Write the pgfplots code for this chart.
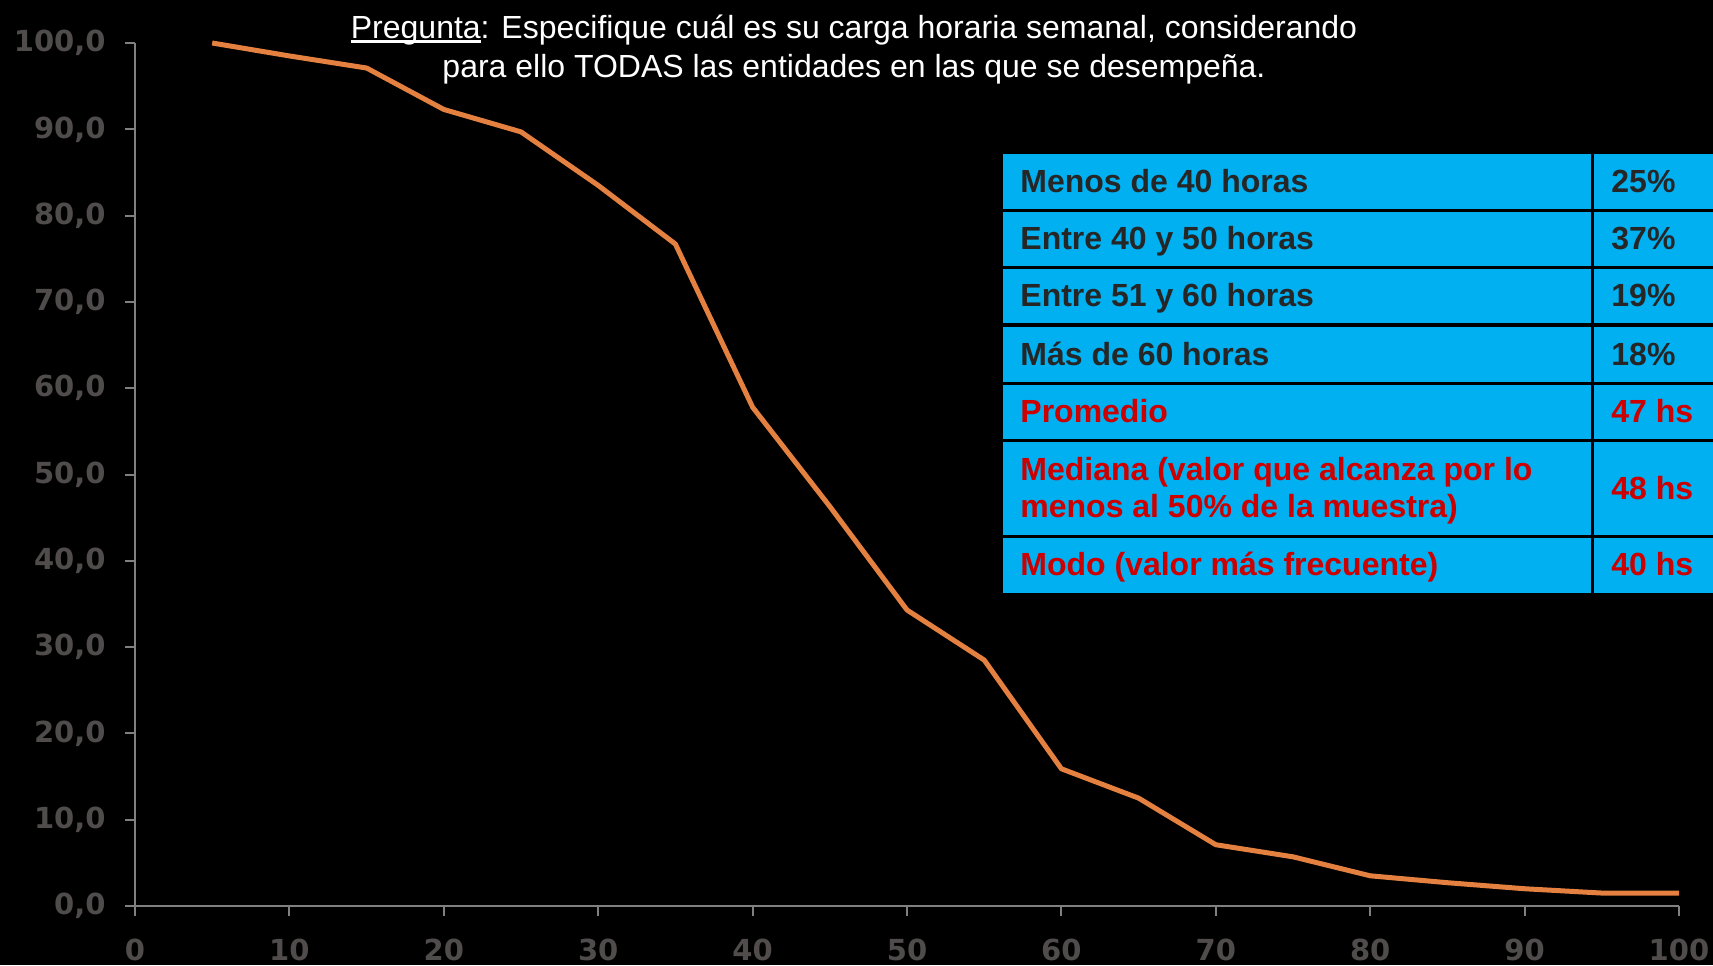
\documentclass[border=0pt]{standalone}
\usepackage{fontspec}
\setmainfont{Liberation Sans}
\newfontfamily\tickfont{DejaVu Sans}
\usepackage{pgfplots}
\usepackage{pgfplotstable}
\pgfplotsset{compat=1.18}
\definecolor{lineorange}{RGB}{228,128,64}
\definecolor{axisgray}{RGB}{128,128,128}
\definecolor{tickgray}{RGB}{80,76,76}
\definecolor{cellcyan}{RGB}{0,176,240}
\definecolor{darktext}{RGB}{38,38,38}
\definecolor{redtext}{RGB}{204,0,0}
\newcommand\ulword[1]{\setbox0\hbox{#1}\rlap{\rule[-2.2pt]{\wd0}{1.2pt}}#1}

\pgfplotstableread{
x y
5 100.0
10 98.5
15 97.1
20 92.3
25 89.7
30 83.5
35 76.7
40 57.8
45 46.3
50 34.3
55 28.5
60 15.9
65 12.5
70 7.1
75 5.7
80 3.5
85 2.7
90 2.0
95 1.5
100 1.5
}\datatable

\begin{document}
\begin{tikzpicture}
\fill[black] (0,0) rectangle (856.5pt,482.5pt);
\useasboundingbox (0,0) rectangle (856.5pt,482.5pt);
\begin{axis}[
  at={(67.5pt,29.5pt)}, anchor=south west,
  scale only axis, width=772pt, height=431.5pt,
  xmin=0, xmax=100, ymin=0, ymax=100,
  axis x line=bottom, axis y line=left,
  axis line style={-, draw=axisgray, line width=1pt},
  xtick={0,10,...,100}, ytick={0,10,...,100},
  tick align=outside, major tick length=5pt,
  tick style={draw=axisgray, line width=1pt},
  /pgf/number format/assume math mode=true,
  ticklabel style={font=\tickfont\bfseries\fontsize{14.5}{14.5}\selectfont, text=tickgray, inner sep=0pt},
  x tick label style={anchor=base, yshift=-22pt},
  y tick label style={anchor=east, xshift=-9.5pt, /pgf/number format/.cd, fixed, fixed zerofill, precision=1, use comma, /tikz/.cd},
  clip=false,
]
\addplot[lineorange, line width=2.5pt, line join=round] table[x=x, y=y] {\datatable};
\end{axis}
\begin{scope}[x=0.5pt, y=-0.5pt, shift={(0,482.5pt)}]
  % title
  \node[text=white, font=\fontsize{16}{19}\selectfont, anchor=base] at (854,38.5) {\ulword{Pregunta}: Especifique cuál es su carga horaria semanal, considerando};
  \node[text=white, font=\fontsize{16}{19}\selectfont, anchor=base] at (854,77.5) {para ello TODAS las entidades en las que se desempeña.};
  % table cells
  \foreach \a/\b in {154/209, 212/266, 269/323, 327/382, 385/439, 442/535, 538/593}{
    \fill[cellcyan] (1003,\a) rectangle (1591,\b);
    \fill[cellcyan] (1594,\a) rectangle (1713,\b);
  }
  \tikzset{tl/.style={anchor=base west, inner sep=0pt, font=\bfseries\fontsize{16}{18.8}\selectfont}}
  \node[tl, text=darktext] at (1020,192.5) {Menos de 40 horas};
  \node[tl, text=darktext] at (1020,250) {Entre 40 y 50 horas};
  \node[tl, text=darktext] at (1020,307) {Entre 51 y 60 horas};
  \node[tl, text=darktext] at (1020,365.5) {Más de 60 horas};
  \node[tl, text=redtext] at (1020,423) {Promedio};
  \node[tl, text=redtext] at (1020,481) {Mediana (valor que alcanza por lo};
  \node[tl, text=redtext] at (1020,518) {menos al 50\% de la muestra)};
  \node[tl, text=redtext] at (1020,575.5) {Modo (valor más frecuente)};
  \node[tl, text=darktext] at (1611,192.5) {25\%};
  \node[tl, text=darktext] at (1611,250) {37\%};
  \node[tl, text=darktext] at (1611,307) {19\%};
  \node[tl, text=darktext] at (1611,365.5) {18\%};
  \node[tl, text=redtext] at (1611,423) {47 hs};
  \node[tl, text=redtext] at (1611,499) {48 hs};
  \node[tl, text=redtext] at (1611,575.5) {40 hs};
\end{scope}
\end{tikzpicture}
\end{document}
